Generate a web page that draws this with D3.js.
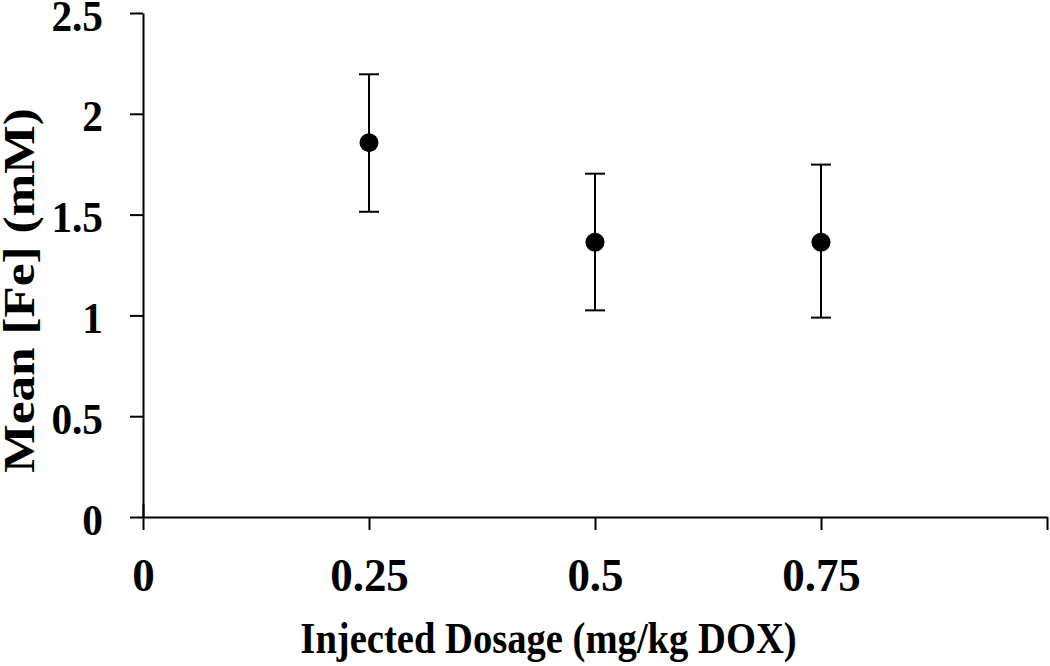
<!DOCTYPE html>
<html>
<head>
<meta charset="utf-8">
<script src="https://cdn.jsdelivr.net/npm/d3@7"></script>
<style>
  html, body { margin: 0; padding: 0; background: #fff; }
  svg { display: block; }
  text { font-family: "Liberation Serif", "Times New Roman", serif; font-weight: bold; fill: #000; }
</style>
</head>
<body>
<svg id="chart" width="1050" height="666"></svg>
<script>
// Data
const dosages = [0.25, 0.5, 0.75];
const meanFe = [1.857, 1.363, 1.363];
const upperFe = [2.196, 1.703, 1.748];
const lowerFe = [1.514, 1.025, 0.989];
const xTicks = [0, 0.25, 0.5, 0.75, 1.0];
const xTickLabels = ["0", "0.25", "0.5", "0.75", ""];
const yTicks = [0, 0.5, 1, 1.5, 2, 2.5];
const yTickLabels = ["0", "0.5", "1", "1.5", "2", "2.5"];
const xTitle = "Injected Dosage (mg/kg DOX)";
const yTitle = "Mean [Fe] (mM)";

const svg = d3.select("#chart");
const x = d3.scaleLinear().domain([0, 1]).range([143, 1047]);
const y = d3.scaleLinear().domain([0, 2.5]).range([517, 13]);

// Y axis
const yAxis = d3.axisLeft(y).tickValues(yTicks)
  .tickFormat((d, i) => yTickLabels[i]).tickSize(13).tickSizeOuter(0);
const gy = svg.append("g").attr("transform", `translate(${x(0)},0)`).call(yAxis);
gy.select(".domain").attr("stroke", "#000").attr("stroke-width", 2);
gy.selectAll(".tick line").attr("stroke", "#000").attr("stroke-width", 2);
gy.selectAll(".tick text").attr("font-size", 41.3).attr("x", 0).attr("y", 0).attr("dy", 0)
  .attr("text-anchor", "end")
  .attr("transform", "translate(-40,17) scale(1,1.05)")
  .style("font-family", "Liberation Serif").style("font-weight", "bold");

// X axis
const xAxis = d3.axisBottom(x).tickValues(xTicks)
  .tickFormat((d, i) => xTickLabels[i]).tickSize(13).tickSizeOuter(0);
const gx = svg.append("g").attr("transform", `translate(0,${y(0)})`).call(xAxis);
gx.select(".domain").attr("stroke", "#000").attr("stroke-width", 2);
gx.selectAll(".tick line").attr("stroke", "#000").attr("stroke-width", 2)
  .attr("y1", d => d === 0 ? -13 : 0);
gx.selectAll(".tick text").attr("font-size", 45).attr("x", 0).attr("y", 0).attr("dy", 0)
  .attr("transform", "translate(0,74) scale(1,1.04)")
  .style("font-family", "Liberation Serif").style("font-weight", "bold");

// Error bars
const pts = dosages.map((d, i) => ({ x: d, m: meanFe[i], hi: upperFe[i], lo: lowerFe[i] }));
const eb = svg.append("g").attr("stroke", "#000").attr("stroke-width", 2);
eb.selectAll("line.v").data(pts).join("line").attr("class", "v")
  .attr("x1", d => x(d.x)).attr("x2", d => x(d.x))
  .attr("y1", d => y(d.hi)).attr("y2", d => y(d.lo));
eb.selectAll("line.t").data(pts).join("line").attr("class", "t")
  .attr("x1", d => x(d.x) - 10).attr("x2", d => x(d.x) + 10)
  .attr("y1", d => y(d.hi)).attr("y2", d => y(d.hi));
eb.selectAll("line.b").data(pts).join("line").attr("class", "b")
  .attr("x1", d => x(d.x) - 10).attr("x2", d => x(d.x) + 10)
  .attr("y1", d => y(d.lo)).attr("y2", d => y(d.lo));

// Markers
svg.append("g").selectAll("circle").data(pts).join("circle")
  .attr("cx", d => x(d.x)).attr("cy", d => y(d.m)).attr("r", 9.5).attr("fill", "#000");

// Titles
svg.append("text").attr("transform", "translate(548.5,653) scale(1,1.17)")
  .attr("text-anchor", "middle").attr("font-size", 38.6).text(xTitle);
svg.append("text").attr("transform", "translate(34,290.5) rotate(-90) scale(1.166,1)")
  .attr("text-anchor", "middle").attr("font-size", 44).text(yTitle);
</script>
</body>
</html>
